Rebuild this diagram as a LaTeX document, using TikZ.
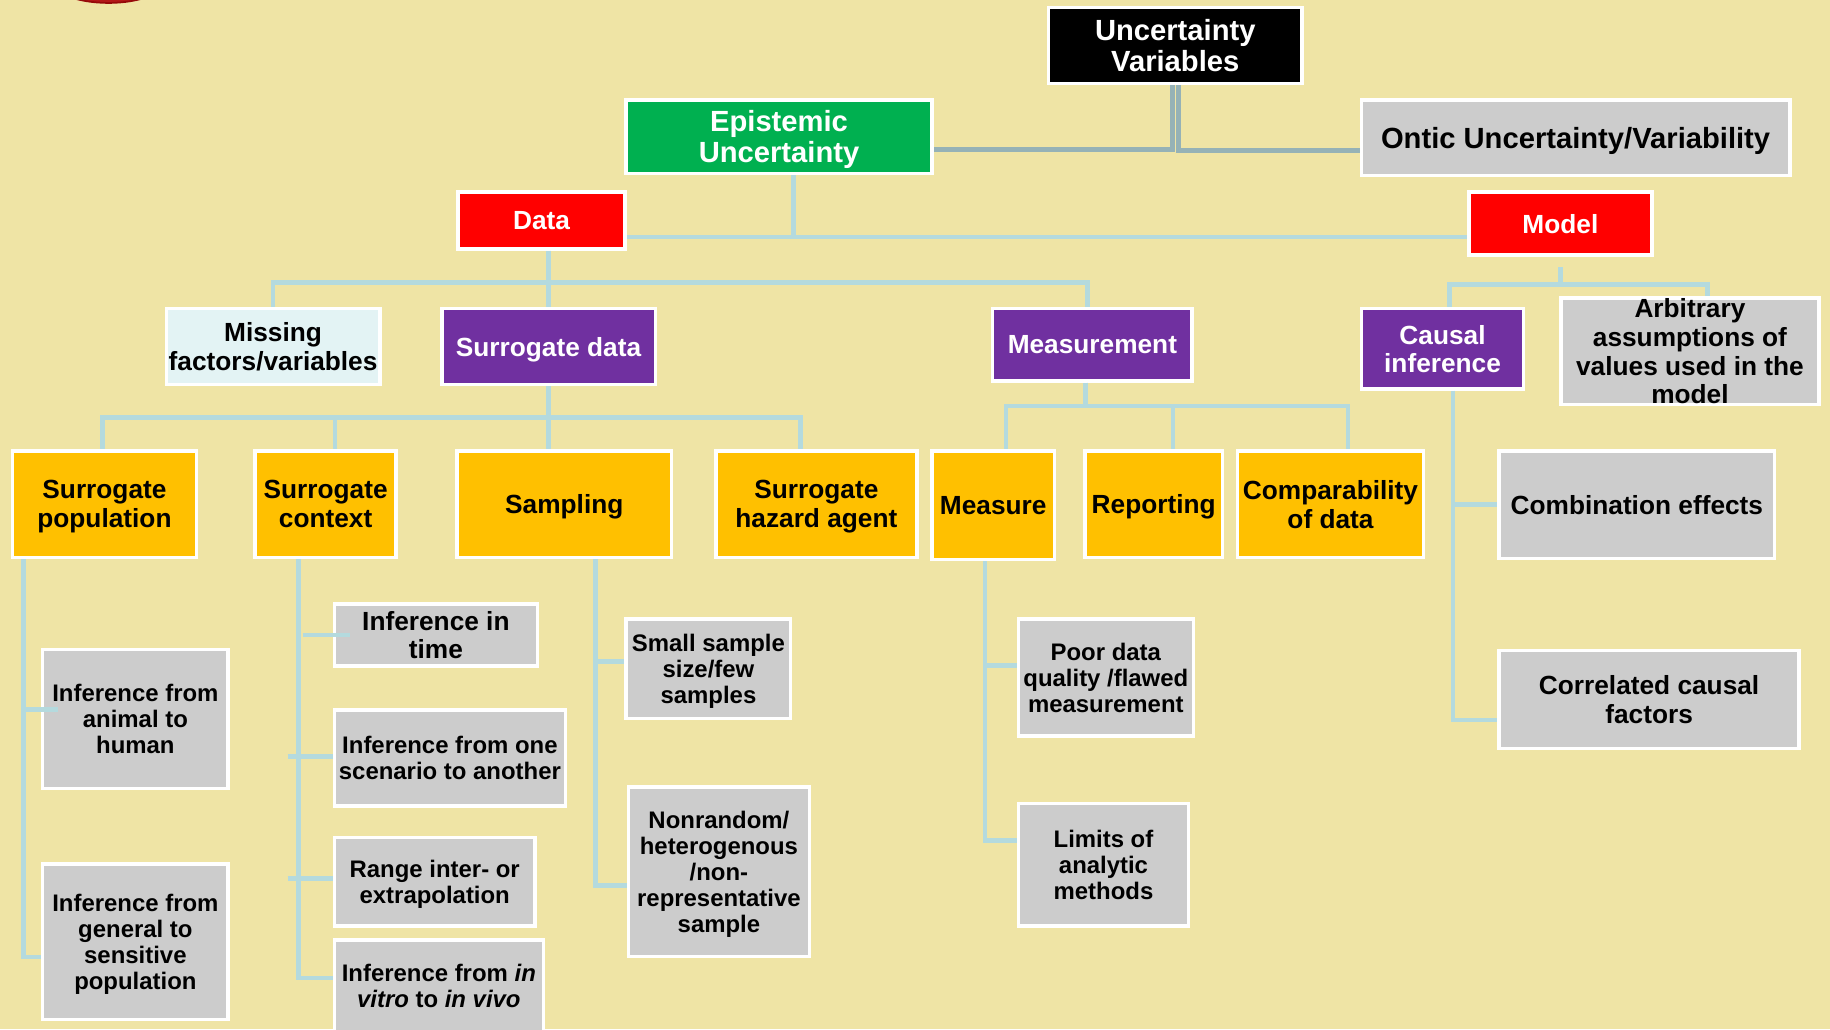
\documentclass[tikz,border=0pt]{standalone}
\usepackage{fontspec}
\setmainfont{Liberation Sans}
\definecolor{bgkhaki}{RGB}{239,228,165}
\definecolor{boxgreen}{RGB}{0,176,80}
\definecolor{boxred}{RGB}{255,0,0}
\definecolor{boxpurple}{RGB}{112,48,160}
\definecolor{boxorange}{RGB}{255,192,0}
\definecolor{boxgray}{RGB}{204,204,204}
\definecolor{boxcyan}{RGB}{227,243,244}
\definecolor{linkblue}{RGB}{180,218,222}
\definecolor{linkdark}{RGB}{150,178,182}
\definecolor{sealred}{RGB}{180,24,24}
\definecolor{sealrim}{RGB}{150,10,10}
\newcommand\szTop{\bfseries\fontsize{25}{27}\selectfont}
\newcommand\szMid{\bfseries\fontsize{22.5}{24.6}\selectfont}
\newcommand\szLeaf{\bfseries\fontsize{20.5}{22.3}\selectfont}
\tikzset{
  box/.style={draw=white, line width=3pt, inner sep=0pt, align=center, text depth=0pt},
  wh/.style 2 args={minimum width=#1pt, minimum height=#2pt},
  topbox/.style={box, font=\szTop},
  midbox/.style={box, font=\szMid},
  leafbox/.style={box, font=\szLeaf, fill=boxgray},
  conn/.style={draw=linkblue, line width=4pt},
  dconn/.style={draw=linkdark, line width=4pt},
}
\begin{document}
\begin{tikzpicture}[x=1pt,y=-1pt]
\useasboundingbox (0,0) rectangle (1568,882);
\fill[bgkhaki] (0,0) rectangle (1568,882);
% round seal at the top edge
\fill[sealred, draw=sealrim, line width=1.5pt] (93,-17.5) ellipse [x radius=50, y radius=20];

% top level
\node[topbox, fill=black, text=white, wh={217}{65}] (unc) at (1007,39) {Uncertainty\\Variables};
\node[topbox, fill=boxgreen, text=white, wh={262}{63}] (epi) at (667.5,117) {Epistemic\\Uncertainty};
\node[topbox, fill=boxgray, wh={367}{65}] (ontic) at (1350,118) {Ontic Uncertainty/Variability};

% second level
\node[midbox, fill=boxred, text=white, wh={143}{49}] (data) at (464,189) {Data};
\node[midbox, fill=boxred, text=white, wh={157}{54}] (model) at (1337,191.5) {Model};

% third level
\node[midbox, fill=boxcyan, wh={183}{65}] (missing) at (234,297) {Missing\\factors/variables};
\node[midbox, fill=boxpurple, text=white, wh={183}{65}] (surr) at (470,297) {Surrogate data};
\node[midbox, fill=boxpurple, text=white, wh={171}{62}] (meas) at (936,295.5) {Measurement};
\node[midbox, fill=boxpurple, text=white, wh={139}{69}] (causal) at (1236,299) {Causal\\inference};
\node[midbox, fill=boxgray, wh={221}{91}] (arb) at (1448,301) {Arbitrary\\assumptions of\\values used in the\\model};

% orange row
\node[midbox, fill=boxorange, wh={158}{91}] (spop) at (89.5,432) {Surrogate\\population};
\node[midbox, fill=boxorange, wh={121}{91}] (sctx) at (279,432) {Surrogate\\context};
\node[midbox, fill=boxorange, wh={184}{91}] (samp) at (483.5,432) {Sampling};
\node[midbox, fill=boxorange, wh={172}{91}] (shaz) at (699.5,432) {Surrogate\\hazard agent};
\node[midbox, fill=boxorange, wh={105}{93}] (measure) at (851,433) {Measure};
\node[midbox, fill=boxorange, wh={118}{91}] (report) at (988.5,432) {Reporting};
\node[midbox, fill=boxorange, wh={159}{91}] (compar) at (1140,432) {Comparability\\of data};

% model branch
\node[midbox, fill=boxgray, wh={236}{92}] (comb) at (1402.5,432.5) {Combination effects};
\node[midbox, fill=boxgray, wh={257}{84}] (corr) at (1413,599.5) {Correlated causal\\factors};

% leaves
\node[leafbox, wh={159}{119}] (animal) at (116,616) {Inference from\\animal to\\human};
\node[leafbox, wh={159}{133}] (general) at (116,807) {Inference from\\general to\\sensitive\\population};
\node[leafbox, font=\szMid, wh={174}{53}] (time) at (373.5,544) {Inference in\\time};
\node[leafbox, wh={198}{82}] (scen) at (385.5,649.5) {Inference from one\\scenario to another};
\node[leafbox, wh={172}{76}] (range) at (372.5,755.5) {Range inter- or\\extrapolation};
\node[leafbox, wh={179}{79}] (vitro) at (376,845) {Inference from \textit{in}\\\textit{vitro} to \textit{in vivo}};
\node[leafbox, wh={141}{85}] (small) at (607,573) {Small sample\\size/few\\samples};
\node[leafbox, wh={155}{145}] (nonr) at (616,747) {Nonrandom/\\heterogenous\\/non-\\representative\\sample};
\node[leafbox, wh={150}{100}] (poor) at (947.5,580.5) {Poor data\\quality /flawed\\measurement};
\node[leafbox, wh={146}{105}] (limits) at (945.5,741) {Limits of\\analytic\\methods};

% connectors: root
\draw[dconn] ([xshift=-2.5]unc.south) |- ([yshift=-11]epi.east);
\draw[dconn] ([xshift=2.5]unc.south) |- ([yshift=-11]ontic.west);

% epistemic
\draw[conn] ([xshift=12.5]epi.south) |- ([yshift=-14]data.east);
\draw[conn] ([xshift=12.5]epi.south) |- ([yshift=-11.5]model.west);

% data
\draw[conn] ([xshift=6]data.south) -- (surr.north);
\draw[conn] ([xshift=6]data.south) -- ++(0,27) -| (missing.north);
\draw[conn] ([xshift=6]data.south) -- ++(0,27) -| ([xshift=-4]meas.north);

% surrogate data
\draw[conn] (surr.south) -- ++(0,27) -| ([xshift=-1.5]spop.north);
\draw[conn] (surr.south) -- ++(0,27) -| ([xshift=8]sctx.north);
\draw[conn] (surr.south) -- (surr.south |- samp.north);
\draw[conn] (surr.south) -- ++(0,27) -| ([xshift=-13.5]shaz.north);

% measurement
\draw[conn] ([xshift=-6]meas.south) -- ++(0,20) -| ([xshift=11]measure.north);
\draw[conn] ([xshift=-6]meas.south) -- ++(0,20) -| ([xshift=16.5]report.north);
\draw[conn] ([xshift=-6]meas.south) -- ++(0,20) -| ([xshift=15]compar.north);

% model
\draw[conn] ([yshift=-9]model.south) -- ++(0,14.5) -| ([xshift=6]causal.north);
\draw[conn] ([yshift=-9]model.south) -- ++(0,14.5) -| ([xshift=15]arb.north);

% causal inference
\draw[conn] ([xshift=9]causal.south) |- (comb.west);
\draw[conn] ([xshift=9]causal.south) |- ([yshift=-17.5]corr.west);

% surrogate population
\draw[conn] ([xshift=-69.5]spop.south) |- ([yshift=-13]general.west);
\draw[conn] ([xshift=-13,yshift=8]animal.west) -- ++(28,0);

% surrogate context
\draw[conn] ([xshift=-23]sctx.south) |- ([yshift=7]vitro.west);
\draw[conn] ([xshift=-25.5]time.west) -- ++(40,0);
\draw[conn] ([xshift=-38.5,yshift=1.5]scen.west) -- ++(39,0);
\draw[conn] ([xshift=-38.5,yshift=2.5]range.west) -- ++(39,0);

% sampling
\draw[conn] ([xshift=26.5]samp.south) |- ([yshift=6]small.west);
\draw[conn] ([xshift=26.5]samp.south) |- ([yshift=-12]nonr.west);

% measure
\draw[conn] ([xshift=-7]measure.south) |- ([yshift=10.5]poor.west);
\draw[conn] ([xshift=-7]measure.south) |- ([yshift=21]limits.west);
\end{tikzpicture}
\end{document}
